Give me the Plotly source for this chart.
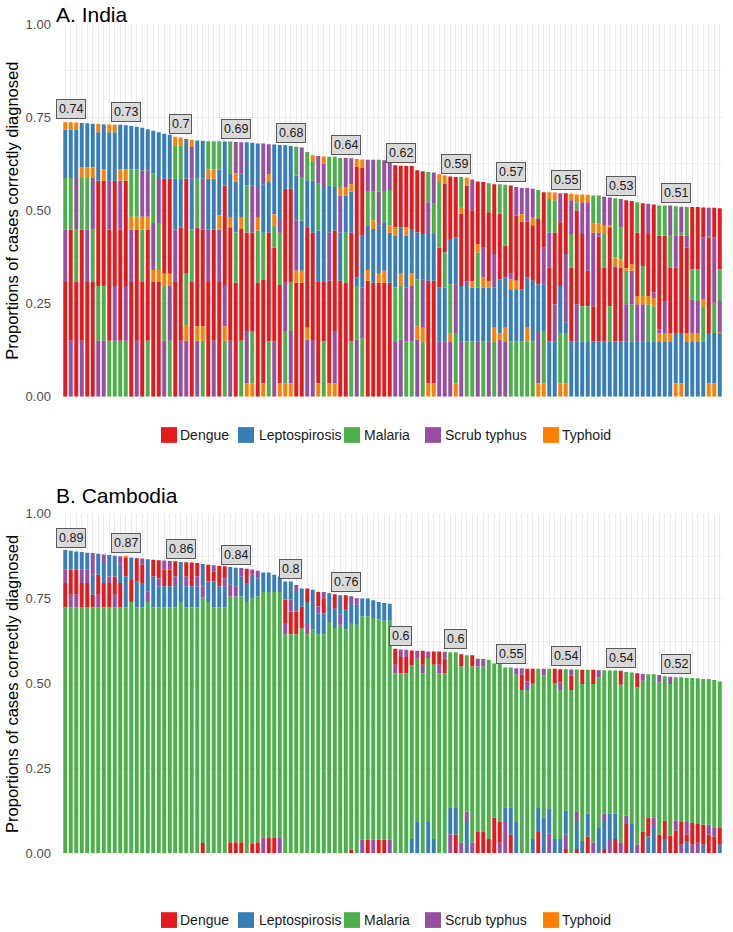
import plotly.graph_objects as go

# ---------------- data ----------------
DISEASES = ["Dengue", "Leptospirosis", "Malaria", "Scrub typhus", "Typhoid"]
CODES = ["R", "B", "G", "P", "O"]
COLORS = ["#E41A1C", "#377EB8", "#4DAF4A", "#984EA3", "#FF7F00"]

# India: stacking order (bottom -> top) and cumulative tops of each segment
INDIA_ORDER = [
    "RPGBO", "PRGBO", "RGPBO", "PRGOB", "RPGOB", "RGPOB", "PGRBO", "PGROB", "GRPBO", "GPRBO",
    "GRPOB", "GPROB", "RPOGB", "PROGB", "RGOPB", "GROPB", "ROPGB", "ROGPB", "PGORB", "GPORB",
    "RPBGO", "PRBGO", "POGRB", "RGBPO", "PORGB", "GORPB", "RPBOG", "PRBOG", "RPOBG", "GOPRB",
    "PROBG", "RGBOP", "GROBP", "OPRGB", "OGRPB", "RGOPB", "ORGBP", "GRBOP", "PRGOB", "ORGPB",
    "OGPRB", "OPGRB", "ROPBG", "ROBGP", "PORBG", "PRBGO", "ORBGP", "GRBPO", "ORPBG", "OPRBG",
    "RBPOG", "RGBOP", "GRBOP", "PGBRO", "GPBRO", "ROBGP", "RBOGP", "ROBPG", "ROBGP", "RBOGP",
    "PGBOR", "PGOBR", "GPBOR", "GPOBR", "POGBR", "GOPBR", "ORBPG", "ORBGP", "PBRGO", "PBGRO",
    "POGBR", "OGPBR", "PBROG", "GBPRO", "GBORP", "PBGOR", "GBOPR", "PBORG", "GOBPR", "POBRG",
    "POBRG", "GBOPR", "GBORP", "GBROP", "GOBRP", "GBROP", "OPBRG", "OGBPR", "BRPGO", "BPRGO",
    "OGBRP", "OGBPR", "BRGPO", "BPRGO", "BGRPO", "BGRPO", "BRPOG", "BRPOG", "BRGOP", "BGROP",
    "BRPOG", "BROGP", "BPGOR", "BGPOR", "BPORG", "BPOGR", "BGORP", "BGOPR", "BOPRG", "BOPRG",
    "BORGP", "OBRPG", "OBRGP", "BORPG", "BOPGR", "BOPGR", "BGOPR", "OBRGP", "OBGPR", "BOPGR",
]
INDIA_TOPS = [
    [.308, .449, .587, .717, .737], [.150, .449, .587, .717, .737], [.308, .449, .587, .716, .736],
    [.150, .449, .587, .616, .735], [.308, .449, .587, .616, .734], [.308, .449, .587, .616, .733],
    [.150, .297, .580, .710, .732], [.150, .297, .580, .610, .731], [.150, .449, .580, .710, .731],
    [.150, .297, .580, .710, .730], [.150, .449, .580, .610, .730], [.150, .297, .580, .610, .729],
    [.308, .449, .483, .610, .727], [.150, .449, .483, .610, .725], [.308, .449, .483, .607, .722],
    [.150, .449, .483, .607, .718], [.308, .340, .466, .600, .714], [.308, .340, .466, .590, .710],
    [.150, .297, .330, .585, .706], [.150, .297, .330, .585, .703], [.308, .449, .585, .675, .698],
    [.150, .454, .585, .675, .696], [.150, .190, .330, .585, .692], [.308, .449, .585, .670, .690],
    [.150, .189, .454, .585, .688], [.150, .189, .449, .585, .687], [.308, .449, .585, .610, .686],
    [.150, .449, .585, .610, .686], [.308, .449, .487, .610, .686], [.150, .189, .300, .567, .685],
    [.150, .455, .480, .600, .685], [.306, .441, .578, .600, .684], [.150, .450, .480, .600, .683],
    [.036, .176, .441, .567, .683], [.036, .176, .441, .567, .682], [.306, .446, .480, .560, .680],
    [.036, .315, .440, .570, .680], [.149, .441, .576, .598, .678], [.149, .400, .460, .490, .677],
    [.036, .300, .440, .477, .676], [.036, .176, .306, .558, .675], [.036, .176, .306, .558, .673],
    [.306, .338, .473, .594, .671], [.306, .338, .473, .590, .669], [.153, .185, .455, .581, .657],
    [.150, .440, .580, .630, .648], [.036, .310, .446, .572, .646], [.149, .310, .563, .626, .645],
    [.036, .311, .440, .567, .644], [.036, .176, .446, .563, .644], [.311, .441, .540, .563, .641],
    [.306, .440, .540, .563, .641], [.149, .440, .550, .570, .640], [.153, .297, .320, .617, .638],
    [.157, .293, .432, .615, .637], [.311, .340, .460, .550, .636], [.306, .450, .473, .550, .636],
    [.306, .330, .460, .550, .636], [.306, .338, .468, .550, .635], [.306, .440, .460, .555, .634],
    [.149, .293, .432, .455, .621], [.153, .297, .330, .455, .620], [.149, .293, .432, .455, .619],
    [.149, .297, .330, .450, .619], [.153, .189, .315, .441, .608], [.149, .185, .315, .437, .605],
    [.036, .311, .437, .522, .603], [.036, .311, .437, .520, .602], [.149, .293, .400, .576, .597],
    [.149, .293, .387, .572, .594], [.149, .171, .302, .423, .591], [.036, .171, .302, .428, .590],
    [.149, .297, .491, .509, .590], [.149, .297, .310, .567, .588], [.149, .293, .310, .500, .583],
    [.149, .293, .387, .410, .578], [.149, .293, .320, .400, .576], [.149, .293, .310, .495, .573],
    [.149, .185, .293, .383, .570], [.153, .170, .315, .491, .570], [.149, .185, .320, .405, .569],
    [.149, .288, .315, .330, .567], [.149, .288, .311, .486, .563], [.149, .288, .470, .490, .560],
    [.149, .185, .320, .470, .560], [.149, .311, .460, .480, .558], [.036, .176, .302, .477, .555],
    [.036, .176, .302, .400, .549], [.149, .347, .441, .531, .549], [.149, .248, .441, .527, .548],
    [.036, .171, .297, .468, .546], [.036, .171, .200, .383, .546], [.149, .347, .437, .527, .545],
    [.149, .248, .500, .522, .543], [.149, .243, .437, .522, .543], [.149, .243, .338, .522, .542],
    [.149, .243, .441, .464, .540], [.149, .430, .441, .464, .540], [.149, .347, .437, .459, .537],
    [.149, .243, .455, .460, .535], [.149, .347, .350, .374, .533], [.149, .347, .369, .455, .531],
    [.149, .248, .338, .345, .527], [.149, .248, .338, .356, .525], [.149, .248, .270, .441, .522],
    [.149, .248, .270, .351, .519], [.149, .248, .270, .437, .518], [.149, .243, .265, .280, .516],
    [.149, .171, .180, .432, .513], [.149, .171, .257, .432, .513], [.149, .171, .347, .432, .513],
    [.036, .171, .347, .432, .511], [.036, .171, .432, .440, .510], [.149, .171, .400, .432, .509],
    [.149, .171, .260, .342, .509], [.149, .171, .257, .342, .509], [.149, .243, .260, .428, .508],
    [.036, .171, .428, .430, .507], [.036, .171, .252, .428, .507], [.171, .172, .257, .342, .506],
]

CAMB_ORDER = [
    "GRPB", "GPRB", "GPRB", "GRPB", "GRPB", "GRBP", "GPRB", "GRBP", "GRPB", "GPRB",
    "GRBP", "GBRO", "GRB", "GBR", "GBRP", "GPB", "GBR", "GBPR", "GBRP", "GBRP",
    "GBPR", "GB", "GBPR", "GBR", "GBPR", "RGPB", "GBR", "GBRP", "GBR", "GBPR",
    "RGPB", "RGPB", "RGBP", "GBR", "RGBP", "RGBP", "PGB", "RGB", "RGB", "PGB",
    "GPRB", "GRPB", "GRBP", "GRB", "GPBR", "GB", "GBPR", "GBRP", "GB", "GBR",
    "GPB", "GBR", "RGBP", "GBP", "PGB", "RGB", "PGB", "RGB", "RGB", "PGB",
    "GPR", "GRP", "GRP", "BGR", "BGP", "GPR", "BGP", "BGR", "GPR", "GRP",
    "PBG", "RBG", "PGR", "BPG", "PGR", "RGP", "RGP", "RG", "RG", "PRG",
    "PBG", "RBG", "BGP", "GRP", "GPR", "BGR", "RBG", "BGP", "PBG", "BGR",
    "BGPR", "RPBG", "GRP", "RBPG", "BGR", "RBG", "PGR", "BGP", "RBPG", "PBG",
    "RBG", "PGR", "RPG", "BG", "PGR", "RGP", "BRG", "BPG", "RGP", "BRG",
    "RGP", "RPG", "PRG", "BRPG", "PRG", "PRG", "BRG", "RPG", "RPG", "BRG",
]
CAMB_TOPS = [
    [.724, .796, .835, .893], [.724, .761, .835, .891], [.724, .761, .835, .889], [.724, .796, .835, .887],
    [.724, .796, .835, .885], [.724, .761, .820, .884], [.724, .761, .820, .882], [.724, .796, .855, .880],
    [.724, .796, .815, .878], [.724, .761, .815, .876], [.724, .796, .850, .875], [.724, .815, .872, .875],
    [.740, .805, .871], [.724, .800, .869], [.724, .796, .850, .868], [.740, .770, .866],
    [.724, .815, .864], [.724, .786, .810, .863], [.724, .786, .835, .862], [.724, .786, .835, .861],
    [.724, .786, .815, .860], [.740, .858], [.724, .786, .815, .857], [.724, .786, .856],
    [.724, .786, .815, .855], [.030, .753, .786, .852], [.740, .800, .850], [.724, .800, .830, .848],
    [.724, .786, .846], [.724, .786, .810, .845], [.032, .756, .791, .843], [.032, .756, .786, .841],
    [.032, .756, .815, .840], [.740, .796, .838], [.027, .751, .820, .836], [.032, .756, .810, .832],
    [.045, .769, .827], [.045, .769, .827], [.045, .769, .820], [.045, .769, .815],
    [.645, .678, .747, .800], [.645, .712, .747, .800], [.645, .712, .769, .790], [.663, .727, .780],
    [.645, .678, .740, .780], [.658, .776], [.645, .706, .727, .769], [.645, .706, .751, .769],
    [.681, .766], [.663, .720, .763], [.673, .702, .760], [.658, .717, .760],
    [.010, .678, .737, .757], [.673, .732, .751], [.040, .697, .750], [.040, .697, .750],
    [.040, .693, .745], [.040, .688, .740], [.040, .685, .737], [.040, .685, .735],
    [.530, .555, .602], [.530, .578, .600], [.530, .578, .599], [.042, .553, .597],
    [.092, .573, .596], [.530, .555, .596], [.092, .575, .594], [.042, .555, .594],
    [.530, .555, .594], [.530, .573, .593], [.055, .135, .592], [.055, .135, .592],
    [.031, .550, .586], [.092, .122, .583], [.031, .550, .583], [.062, .550, .573],
    [.062, .550, .572], [.042, .570], [.105, .559], [.031, .092, .557],
    [.092, .135, .547], [.055, .135, .547], [.092, .526, .545], [.481, .526, .545],
    [.481, .506, .543], [.042, .501, .543], [.062, .135, .543], [.105, .524, .543],
    [.059, .132, .543], [.042, .500, .543], [.042, .481, .503, .542], [.012, .055, .125, .542],
    [.481, .523, .541], [.012, .092, .122, .541], [.036, .498, .540], [.049, .116, .540],
    [.031, .498, .540], [.074, .518, .539], [.012, .092, .116, .539], [.042, .116, .538],
    [.042, .116, .538], [.031, .496, .537], [.086, .110, .534], [.086, .532],
    [.025, .488, .530], [.064, .508, .528], [.049, .104, .527], [.074, .104, .527],
    [.055, .503, .525], [.042, .096, .521], [.051, .498, .520], [.067, .096, .518],
    [.025, .092, .518], [.036, .055, .092, .517], [.025, .089, .516], [.031, .086, .515],
    [.025, .084, .513], [.055, .084, .513], [.049, .076, .510], [.025, .076, .506],
]

INDIA_LABEL_BARS = [2, 12, 22, 32, 42, 52, 62, 72, 82, 92, 102, 112]
INDIA_LABELS = ["0.74", "0.73", "0.7", "0.69", "0.68", "0.64", "0.62", "0.59", "0.57", "0.55", "0.53", "0.51"]
CAMB_LABEL_BARS = [2, 12, 22, 32, 42, 52, 62, 72, 82, 92, 102, 112]
CAMB_LABELS = ["0.89", "0.87", "0.86", "0.84", "0.8", "0.76", "0.6", "0.6", "0.55", "0.54", "0.54", "0.52"]

Y_TICKS = [0, 0.25, 0.5, 0.75, 1.0]
Y_TICKTEXT = ["0.00", "0.25", "0.50", "0.75", "1.00"]

# ---------------- figure ----------------
FONT = "Liberation Sans, Arial, sans-serif"
W, H = 733, 932


def px_x(v):
    return v / W


def px_y(v):
    return 1 - v / H


fig = go.Figure()


def add_panel(order, tops, xa, ya):
    n = len(order)
    xs = list(range(1, n + 1))
    for code, name, col in zip(CODES, DISEASES, COLORS):
        bases, heights = [], []
        for o, t in zip(order, tops):
            if code in o:
                k = o.index(code)
                b = t[k - 1] if k > 0 else 0.0
                bases.append(b)
                heights.append(t[k] - b)
            else:
                bases.append(0.0)
                heights.append(0.0)
        fig.add_trace(go.Bar(
            x=xs, y=heights, base=bases, name=name,
            marker=dict(color=col, line=dict(width=0)),
            width=0.72, xaxis=xa, yaxis=ya, showlegend=False,
            hovertemplate=name + ": %{y:.3f}<extra></extra>",
        ))


add_panel(INDIA_ORDER, INDIA_TOPS, "x", "y")
add_panel(CAMB_ORDER, CAMB_TOPS, "x2", "y2")

XDOM = [px_x(62.5), px_x(722.5)]
common_x = dict(range=[0.5, 120.5], showticklabels=False, showgrid=True,
                gridcolor="#EBEBEB", gridwidth=1, tickmode="linear", tick0=1, dtick=1,
                zeroline=False, ticks="", showline=False, fixedrange=True)
common_y = dict(range=[0, 1.0], tickvals=Y_TICKS, ticktext=Y_TICKTEXT,
                showgrid=True, gridcolor="#EBEBEB", gridwidth=1, zeroline=False,
                ticks="outside", ticklen=8, tickcolor="rgba(0,0,0,0)",
                tickfont=dict(family=FONT, size=13, color="#4D4D4D"),
                minor=dict(dtick=0.125, tick0=0, showgrid=True, gridcolor="#F3F3F3", gridwidth=0.6),
                showline=False, fixedrange=True)

fig.update_layout(
    width=W, height=H,
    margin=dict(l=0, r=0, t=0, b=0),
    paper_bgcolor="white", plot_bgcolor="white",
    barmode="overlay",
    font=dict(family=FONT, color="#000000"),
    xaxis=dict(domain=XDOM, anchor="y", **common_x),
    yaxis=dict(domain=[px_y(396), px_y(17.5)], anchor="x", **common_y),
    xaxis2=dict(domain=XDOM, anchor="y2", **common_x),
    yaxis2=dict(domain=[px_y(860), px_y(515)], anchor="x2", **common_y),
    showlegend=False,
)

annotations = []
shapes = []
# panel titles
annotations.append(dict(text="A. India", x=px_x(54), y=px_y(8), xref="paper", yref="paper",
                        xanchor="left", yanchor="middle", showarrow=False,
                        font=dict(family=FONT, size=21, color="#000000")))
annotations.append(dict(text="B. Cambodia", x=px_x(54), y=px_y(496), xref="paper", yref="paper",
                        xanchor="left", yanchor="middle", showarrow=False,
                        font=dict(family=FONT, size=21, color="#000000")))
# y-axis titles
for yc in (207, 688):
    annotations.append(dict(text="Proportions of cases correctly diagnosed", x=px_x(12), y=px_y(yc),
                            xref="paper", yref="paper", xanchor="center", yanchor="middle",
                            textangle=-90, showarrow=False,
                            font=dict(family=FONT, size=16.5, color="#000000")))


def add_labels(bars, texts, tops, xr, yr):
    for b, t in zip(bars, texts):
        annotations.append(dict(text=t, x=b, y=tops[b - 1][-1], xref=xr, yref=yr,
                                xanchor="center", yanchor="bottom", yshift=3, showarrow=False,
                                bgcolor="#D9D9D9", bordercolor="#595959", borderwidth=1, borderpad=2,
                                font=dict(family=FONT, size=12.5, color="#1A1A1A")))


add_labels(INDIA_LABEL_BARS, INDIA_LABELS, INDIA_TOPS, "x", "y")
add_labels(CAMB_LABEL_BARS, CAMB_LABELS, CAMB_TOPS, "x2", "y2")

# legends (one under each panel)
LEG_KEY_X = [161, 238, 344, 425, 543]
LEG_TEXT_X = [178, 257, 362, 443, 560]
for yc in (435, 928):
    for name, col, kx, tx in zip(DISEASES, COLORS, LEG_KEY_X, LEG_TEXT_X):
        shapes.append(dict(type="rect", xref="paper", yref="paper",
                           x0=px_x(kx), x1=px_x(kx + 16), y0=px_y(yc + 8), y1=px_y(yc - 8),
                           fillcolor=col, line=dict(width=0)))
        annotations.append(dict(text=name, x=px_x(tx), y=px_y(yc), xref="paper", yref="paper",
                                xanchor="left", yanchor="middle", showarrow=False,
                                font=dict(family=FONT, size=14, color="#1A1A1A")))

fig.update_layout(annotations=annotations, shapes=shapes)
fig.write_html("out.html", config={"displayModeBar": False, "staticPlot": False},
               post_script="document.body.style.margin='0px';")
